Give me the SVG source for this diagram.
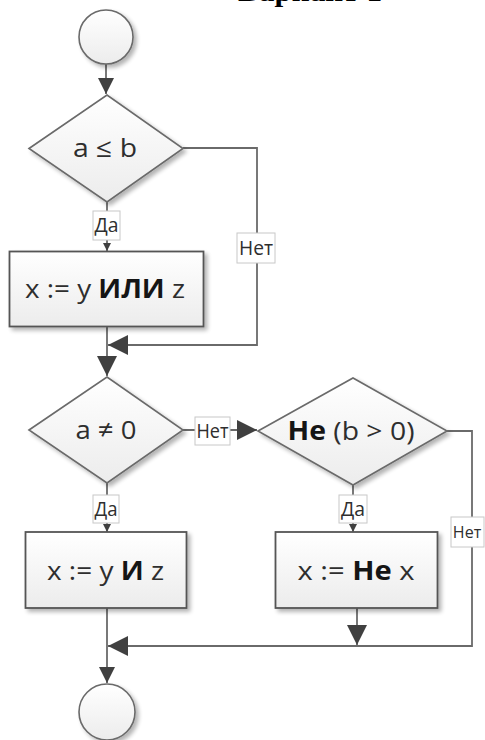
<svg xmlns="http://www.w3.org/2000/svg" width="485" height="740" viewBox="0 0 485 740">
<style>
.shape{stroke:#6a6a6a;stroke-width:1.6}
.box{stroke:#555;stroke-width:1.8}
.line{fill:none;stroke:#6a6a6a;stroke-width:1.8}
.lbl{fill:#fff;stroke:#c8c8c8;stroke-width:1}
.t{font-family:"Open Sans","Noto Sans",sans-serif;fill:#2e2e2e;text-anchor:middle}
.big{font-size:26px}
.small{font-size:20px}
.b{font-weight:bold;fill:#151515}
.title{font-family:"Liberation Serif",serif;font-weight:bold;font-size:30px;fill:#000}
</style>
<defs>
<linearGradient id="g" x1="0" y1="0" x2="0" y2="1">
<stop offset="0" stop-color="#ffffff"/>
<stop offset="1" stop-color="#ececec"/>
</linearGradient>
<filter id="sh" x="-20%" y="-20%" width="150%" height="150%">
<feGaussianBlur in="SourceAlpha" stdDeviation="2"/>
<feOffset dx="3" dy="3" result="o"/>
<feComponentTransfer><feFuncA type="linear" slope="0.3"/></feComponentTransfer>
<feMerge><feMergeNode/><feMergeNode in="SourceGraphic"/></feMerge>
</filter>
<marker id="aL" markerUnits="userSpaceOnUse" markerWidth="20" markerHeight="20" viewBox="0 0 18 18" refX="18" refY="9" orient="auto">
<path d="M0,0 L18,9 L0,18 Z" fill="#404040"/>
</marker>
<marker id="aM" markerUnits="userSpaceOnUse" markerWidth="16" markerHeight="16" viewBox="0 0 14 14" refX="14" refY="7" orient="auto">
<path d="M0,0 L14,7 L0,14 Z" fill="#404040"/>
</marker>
<marker id="aS" markerUnits="userSpaceOnUse" markerWidth="8" markerHeight="8" viewBox="0 0 6 6" refX="6" refY="3" orient="auto">
<path d="M0,0 L6,3 L0,6 Z" fill="#404040"/>
</marker>
</defs>

<text class="title" x="238" y="1" textLength="144" lengthAdjust="spacingAndGlyphs">Вариант 1</text>

<g id="connectors">
<path class="line" d="M106,64 V94" marker-end="url(#aM)"/>
<path class="line" d="M107,202 V251" marker-end="url(#aS)"/>
<path class="line" d="M183,148 H257 V345 H108" marker-end="url(#aL)"/>
<path class="line" d="M107,327 V376" marker-end="url(#aL)"/>
<path class="line" d="M183,430 H257" marker-end="url(#aL)"/>
<path class="line" d="M107,483 V532" marker-end="url(#aS)"/>
<path class="line" d="M353,485 V532" marker-end="url(#aS)"/>
<path class="line" d="M447,431 H472 V646 H108" marker-end="url(#aL)"/>
<path class="line" d="M357,608 V645" marker-end="url(#aL)"/>
<path class="line" d="M107,608 V683" marker-end="url(#aM)"/>
<g id="lbl-da1"><rect class="lbl" x="93" y="211" width="27" height="29"/><text class="t small" x="106.5" y="232" textLength="24" lengthAdjust="spacingAndGlyphs">Да</text></g>
<g id="lbl-net1"><rect class="lbl" x="237" y="233" width="38" height="30"/><text class="t small" x="256" y="255" textLength="34" lengthAdjust="spacingAndGlyphs">Нет</text></g>
<g id="lbl-net2"><rect class="lbl" x="195" y="417" width="35" height="28"/><text class="t small" x="212.5" y="438" textLength="32" lengthAdjust="spacingAndGlyphs">Нет</text></g>
<g id="lbl-da2"><rect class="lbl" x="93" y="495" width="26" height="28"/><text class="t small" x="106" y="516" textLength="23" lengthAdjust="spacingAndGlyphs">Да</text></g>
<g id="lbl-da3"><rect class="lbl" x="339" y="495" width="28" height="28"/><text class="t small" x="353" y="516" textLength="24" lengthAdjust="spacingAndGlyphs">Да</text></g>
<g id="lbl-net3"><rect class="lbl" x="451" y="517" width="33" height="30"/><text class="t" style="font-size:16px" x="467" y="538">Нет</text></g>
</g>

<g id="start"><circle class="shape" cx="106" cy="37" r="27" fill="url(#g)" filter="url(#sh)"/></g>

<g id="cond1">
<polygon class="shape" points="29,148.5 107,95 183,148.5 107,202" fill="url(#g)" filter="url(#sh)"/>
<text class="t big" x="105" y="157" textLength="64" lengthAdjust="spacingAndGlyphs">a ≤ b</text>
</g>

<g id="proc1">
<rect class="box" x="9.5" y="251.5" width="194" height="75" fill="url(#g)" filter="url(#sh)"/>
<text class="t big" x="105" y="298" textLength="160" lengthAdjust="spacingAndGlyphs">x := y <tspan class="b">ИЛИ</tspan> z</text>
</g>

<g id="cond2">
<polygon class="shape" points="29,430 107,377 183,430 107,483" fill="url(#g)" filter="url(#sh)"/>
<text class="t big" x="106" y="439" textLength="61" lengthAdjust="spacingAndGlyphs">a ≠ 0</text>
</g>

<g id="cond3">
<polygon class="shape" points="258,431 353,378 447,431 353,485" fill="url(#g)" filter="url(#sh)"/>
<text class="t big" x="351" y="440" textLength="127" lengthAdjust="spacingAndGlyphs"><tspan class="b">Не</tspan> (b &gt; 0)</text>
</g>

<g id="proc2">
<rect class="box" x="25.5" y="532" width="161" height="76" fill="url(#g)" filter="url(#sh)"/>
<text class="t big" x="105.5" y="580" textLength="117" lengthAdjust="spacingAndGlyphs">x := y <tspan class="b">И</tspan> z</text>
</g>

<g id="proc3">
<rect class="box" x="275.5" y="532" width="162" height="76" fill="url(#g)" filter="url(#sh)"/>
<text class="t big" x="356" y="580" textLength="117" lengthAdjust="spacingAndGlyphs">x := <tspan class="b">Не</tspan> x</text>
</g>

<g id="end"><circle class="shape" cx="107" cy="712" r="28" fill="url(#g)" filter="url(#sh)"/></g>
</svg>
